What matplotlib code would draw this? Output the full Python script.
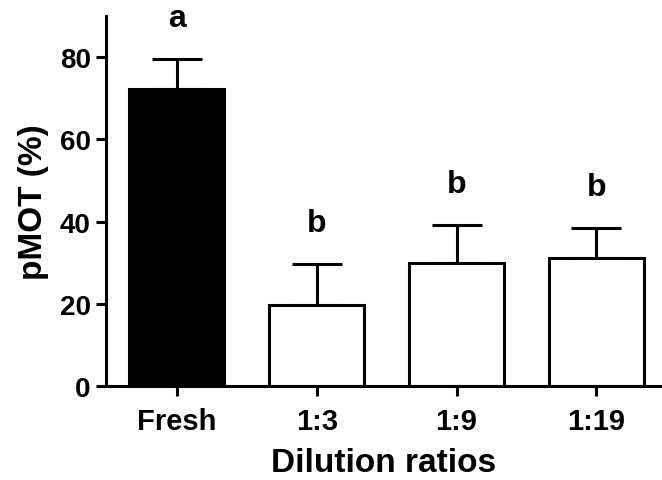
import numpy as np
import matplotlib
matplotlib.use("Agg")
import matplotlib.pyplot as plt

# values (mean and upper SD)
groups = ["Fresh", "1:3", "1:9", "1:19"]
means = [72.3, 19.6, 30.0, 31.2]
errors = [7.2, 10.1, 9.2, 7.2]
letters = ["a", "b", "b", "b"]
fills = ["black", "white", "white", "white"]

plt.rcParams['font.family'] = ['Liberation Sans', 'DejaVu Sans']
plt.rcParams['font.weight'] = 'bold'

fig = plt.figure(figsize=(6.62, 4.81), dpi=100)
ax = fig.add_axes([0.160, 0.1954, 0.840, 0.7693])

x = np.arange(len(groups))
lw = 2.2
ax.bar(x, means, width=0.68, color=fills, edgecolor="black", linewidth=lw, zorder=2)
ax.errorbar(x, means, yerr=[np.zeros(len(x)), errors], fmt="none", ecolor="black",
            elinewidth=lw, capsize=18, capthick=lw, zorder=1)

for xi, m, e, lab in zip(x, means, errors, letters):
    ax.text(xi, m + e + 6.3, lab, ha="center", va="bottom", fontsize=23,
            fontweight="bold", clip_on=False)

ax.set_xlim(-0.508, 3.47)
ax.set_ylim(0, 90)
ax.set_yticks([0, 20, 40, 60, 80])
ax.set_xticks(x)
ax.set_xticklabels(groups)

for side in ["top", "right"]:
    ax.spines[side].set_visible(False)
for side in ["left", "bottom"]:
    ax.spines[side].set_linewidth(2.2)

ax.tick_params(axis="both", width=2.2, length=7, pad=4)
ax.tick_params(axis="y", labelsize=20)
ax.tick_params(axis="x", labelsize=21, pad=8)

ax.set_xlabel("Dilution ratios", fontsize=24, fontweight="bold", labelpad=9)
ax.set_ylabel("pMOT (%)", fontsize=24, fontweight="bold", labelpad=8)

fig.savefig("out.png", dpi=100)
